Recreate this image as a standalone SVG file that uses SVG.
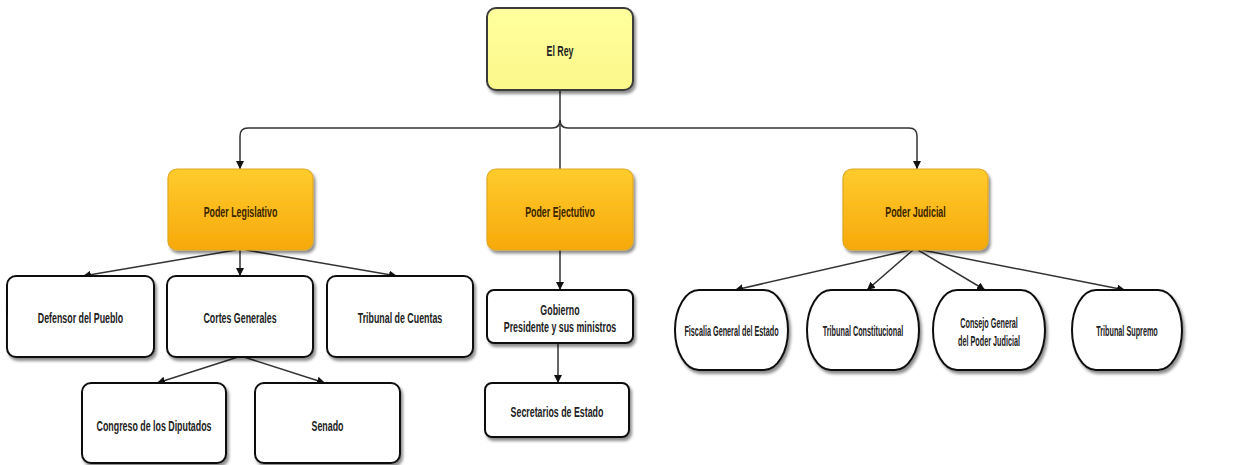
<svg xmlns="http://www.w3.org/2000/svg" width="1234" height="465" viewBox="0 0 1234 465">
<defs>
<linearGradient id="gOrange" x1="0" y1="0" x2="0" y2="1">
<stop offset="0" stop-color="#ffcb2e"/>
<stop offset="1" stop-color="#f7a90a"/>
</linearGradient>
<linearGradient id="gYellow" x1="0" y1="0" x2="0" y2="1">
<stop offset="0" stop-color="#ffff9e"/>
<stop offset="1" stop-color="#fbf98a"/>
</linearGradient>
<filter id="sh" x="-10%" y="-10%" width="125%" height="135%">
<feDropShadow dx="2" dy="3" stdDeviation="1.6" flood-color="#000" flood-opacity="0.45"/>
</filter>
<marker id="arr" viewBox="0 0 10 10" refX="10" refY="5" markerWidth="8" markerHeight="8" markerUnits="userSpaceOnUse" orient="auto">
<path d="M0,0 L10,5 L0,10 z" fill="#111"/>
</marker>
</defs>
<style>
.yel{fill:url(#gYellow);stroke:#3a3a3a;stroke-width:2;filter:url(#sh)}
.ora{fill:url(#gOrange);stroke:#e0a820;stroke-width:1.2;filter:url(#sh)}
.wht{fill:#fff;stroke:#111;stroke-width:2;filter:url(#sh)}
.t{font-family:"Liberation Sans",Arial,sans-serif;font-weight:bold;font-size:14.5px;text-anchor:middle;fill:#222}
.to{fill:#3a2500}
.c{fill:none;stroke:#333;stroke-width:1.5}
</style>
<g id="connectors">
<path class="c" d="M560,90 V169"/>
<path class="c" d="M560,120 Q560,128 552,128 H248 Q240,128 240,136 V169" marker-end="url(#arr)"/>
<path class="c" d="M560,120 Q560,128 568,128 H909 Q917,128 917,136 V169" marker-end="url(#arr)"/>
<path class="c" d="M236,250 L83,276" marker-end="url(#arr)"/>
<path class="c" d="M240,250 L240,276" marker-end="url(#arr)"/>
<path class="c" d="M246,250 L397,276" marker-end="url(#arr)"/>
<path class="c" d="M238,357 L157,383" marker-end="url(#arr)"/>
<path class="c" d="M244,357 L325,383" marker-end="url(#arr)"/>
<path class="c" d="M560,250 L560,290" marker-end="url(#arr)"/>
<path class="c" d="M558,343 L558,383" marker-end="url(#arr)"/>
<path class="c" d="M910,250 L735,290" marker-end="url(#arr)"/>
<path class="c" d="M913,250 L867,290" marker-end="url(#arr)"/>
<path class="c" d="M918,250 L985,290" marker-end="url(#arr)"/>
<path class="c" d="M922,250 L1125,290" marker-end="url(#arr)"/>
</g>
<g id="el-rey">
<rect class="yel" x="487" y="8" width="146" height="82" rx="9"/>
<text class="t" transform="translate(560,56) scale(0.61,1)">El Rey</text>
</g>
<g id="poder-legislativo">
<rect class="ora" x="168" y="169" width="145" height="81" rx="9"/>
<text class="t to" transform="translate(240.5,217) scale(0.61,1)">Poder Legislativo</text>
</g>
<g id="poder-ejecutivo">
<rect class="ora" x="487" y="169" width="146" height="81" rx="9"/>
<text class="t to" transform="translate(560,217) scale(0.61,1)">Poder Ejectutivo</text>
</g>
<g id="poder-judicial">
<rect class="ora" x="843" y="169" width="145" height="81" rx="9"/>
<text class="t to" transform="translate(915.5,217) scale(0.61,1)">Poder Judicial</text>
</g>
<g id="defensor">
<rect class="wht" x="7" y="276" width="147" height="81" rx="9"/>
<text class="t" transform="translate(80.5,323) scale(0.61,1)">Defensor del Pueblo</text>
</g>
<g id="cortes">
<rect class="wht" x="167" y="276" width="146" height="81" rx="9"/>
<text class="t" transform="translate(240,323) scale(0.61,1)">Cortes Generales</text>
</g>
<g id="tribunal-cuentas">
<rect class="wht" x="327" y="276" width="146" height="81" rx="9"/>
<text class="t" transform="translate(400,323) scale(0.61,1)">Tribunal de Cuentas</text>
</g>
<g id="congreso">
<rect class="wht" x="82" y="383" width="144" height="80" rx="9"/>
<text class="t" transform="translate(154,431) scale(0.61,1)">Congreso de los Diputados</text>
</g>
<g id="senado">
<rect class="wht" x="255" y="383" width="145" height="80" rx="9"/>
<text class="t" transform="translate(327.5,431) scale(0.61,1)">Senado</text>
</g>
<g id="gobierno">
<rect class="wht" x="487" y="290" width="146" height="53" rx="7"/>
<text class="t" transform="translate(560,315) scale(0.61,1)">Gobierno</text>
<text class="t" transform="translate(560,332) scale(0.61,1)">Presidente y sus ministros</text>
</g>
<g id="secretarios">
<rect class="wht" x="485" y="383" width="144" height="54" rx="7"/>
<text class="t" transform="translate(557,417) scale(0.61,1)">Secretarios de Estado</text>
</g>
<g id="fiscalia">
<rect class="wht" x="675" y="290" width="113" height="80" rx="24" ry="40"/>
<text class="t" transform="translate(731.5,336) scale(0.5,1)">Fiscalia General del Estado</text>
</g>
<g id="tribunal-constitucional">
<rect class="wht" x="807" y="290" width="112" height="80" rx="24" ry="40"/>
<text class="t" transform="translate(863,336) scale(0.5,1)">Tribunal Constitucional</text>
</g>
<g id="consejo">
<rect class="wht" x="933" y="290" width="112" height="80" rx="24" ry="40"/>
<text class="t" transform="translate(989,328) scale(0.5,1)">Consejo General</text>
<text class="t" transform="translate(989,346) scale(0.5,1)">del Poder Judicial</text>
</g>
<g id="tribunal-supremo">
<rect class="wht" x="1072" y="290" width="110" height="80" rx="24" ry="40"/>
<text class="t" transform="translate(1127,336) scale(0.5,1)">Tribunal Supremo</text>
</g>
</svg>
